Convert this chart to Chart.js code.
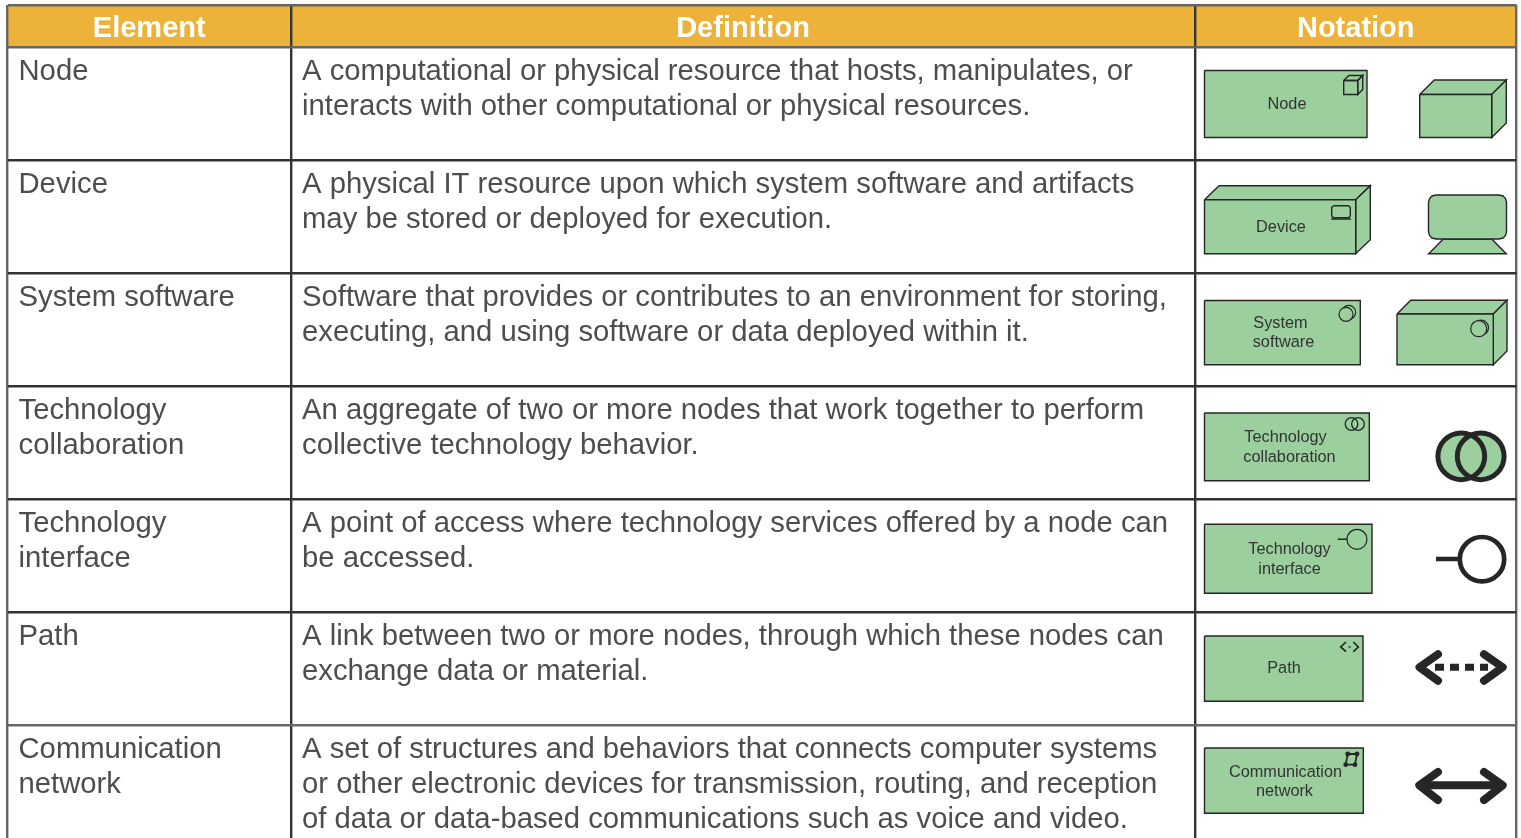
<!DOCTYPE html>
<html>
<head>
<meta charset="utf-8">
<title>Technology layer elements</title>
<script src="https://cdn.jsdelivr.net/npm/chart.js@4"></script>
<style>
    html, body { margin: 0; padding: 0; background: #fff; overflow: hidden; }
    canvas { display: block; }
</style>
</head>
<body>
<canvas id="tableChart" width="1521" height="838"></canvas>
<script>
// Table content
const headers = ['Element', 'Definition', 'Notation'];
const elementLines = [
    ['Node'],
    ['Device'],
    ['System software'],
    ['Technology', 'collaboration'],
    ['Technology', 'interface'],
    ['Path'],
    ['Communication', 'network']
];
const definitionLines = [
    ['A computational or physical resource that hosts, manipulates, or', 'interacts with other computational or physical resources.'],
    ['A physical IT resource upon which system software and artifacts', 'may be stored or deployed for execution.'],
    ['Software that provides or contributes to an environment for storing,', 'executing, and using software or data deployed within it.'],
    ['An aggregate of two or more nodes that work together to perform', 'collective technology behavior.'],
    ['A point of access where technology services offered by a node can', 'be accessed.'],
    ['A link between two or more nodes, through which these nodes can', 'exchange data or material.'],
    ['A set of structures and behaviors that connects computer systems', 'or other electronic devices for transmission, routing, and reception', 'of data or data-based communications such as voice and video.']
];
const notationLabels = [
    ['Node'],
    ['Device'],
    ['System', 'software'],
    ['Technology', 'collaboration'],
    ['Technology', 'interface'],
    ['Path'],
    ['Communication', 'network']
];

// Table grid, in axis units
const columnEdges = [7.5, 291, 1195, 1516.5];
const rowEdges = [5, 47.5, 160, 273, 386, 499, 612, 725];
const rowBaselines = [
    [80, 115],
    [193, 228],
    [306, 341],
    [419, 454],
    [532, 567],
    [645, 680],
    [758, 793, 828]
];
const notationLabelSpots = [
    [[1287, 105]],
    [[1281, 228]],
    [[1280.5, 324], [1283.5, 343]],
    [[1285.5, 437.5], [1289.5, 457.5]],
    [[1289.5, 549.5], [1289.5, 570]],
    [[1284, 669]],
    [[1285.5, 772.5], [1284.5, 791.5]]
];

const GOLD = '#ecb23a';
const GREEN = '#9bcf9e';
const INK = '#262626';
const TEXT = '#4d4d4d';

// Shape helpers, every shape ends up as one line dataset
const shapes = [];

function outline(points, opts) {
    shapes.push(Object.assign({
        data: points.map(p => ({ x: p[0], y: p[1] })),
        borderColor: INK,
        borderWidth: 1.4,
        pointRadius: 0,
        fill: false
    }, opts));
}

function solid(points) {
    outline(points, { fill: 'shape', backgroundColor: GREEN });
}

function box(x0, y0, x1, y1) {
    solid([[x0, y0], [x1, y0], [x1, y1], [x0, y1], [x0, y0]]);
}

function prism(x0, y0, x1, y1, x2, y2, filled) {
    const top = [[x0, y0], [x0 + (x2 - x1), y2], [x2, y2], [x1, y0], [x0, y0]];
    const side = [[x1, y0], [x2, y2], [x2, y1 - (y0 - y2)], [x1, y1], [x1, y0]];
    const front = [[x0, y0], [x1, y0], [x1, y1], [x0, y1], [x0, y0]];
    if (filled) {
        solid(top); solid(side); solid(front);
    } else {
        outline(top); outline(side); outline(front);
    }
}

function circle(cx, cy, r, width, color) {
    shapes.push({
        data: [{ x: cx, y: cy }],
        showLine: false,
        pointRadius: r,
        pointBorderWidth: width,
        pointBorderColor: INK,
        pointBackgroundColor: color
    });
}

function heavy(points, opts) {
    outline(points, Object.assign({ borderWidth: 8, borderCapStyle: 'round', borderJoinStyle: 'round' }, opts));
}

// Header band
shapes.push({
    data: [{ x: columnEdges[0], y: rowEdges[1] }, { x: columnEdges[3], y: rowEdges[1] }],
    borderWidth: 0,
    pointRadius: 0,
    backgroundColor: GOLD,
    fill: { value: rowEdges[0] }
});

// Node
box(1204.5, 70.5, 1367, 137.5);
prism(1343.7, 80.5, 1357.7, 94.5, 1362.7, 75.5, false);
prism(1419.7, 94.5, 1491.7, 137.5, 1506.3, 80, true);

// Device
prism(1204.5, 199.7, 1355.7, 253.7, 1370.3, 185.7, true);
outline([[1333.5, 205.7], [1348.5, 205.7], [1350.3, 207.5], [1350.3, 216], [1348.5, 217.7], [1333.5, 217.7], [1331.7, 216], [1331.7, 207.5], [1333.5, 205.7]]);
outline([[1331, 219], [1351, 219]]);
solid([[1443.3, 239], [1491.7, 239], [1506.3, 253.7], [1428.7, 253.7], [1443.3, 239]]);
solid([[1436, 195], [1499, 195], [1503, 196], [1505.5, 198.5], [1506.5, 202], [1506.5, 232], [1505.5, 235.5], [1503, 238], [1499, 239], [1436, 239], [1432, 238], [1429.5, 235.5], [1428.5, 232], [1428.5, 202], [1429.5, 198.5], [1432, 196], [1436, 195]]);

// System software
box(1204.5, 300.5, 1360.3, 364.7);
circle(1348.7, 312.3, 7, 1.2, GREEN);
circle(1346, 314.3, 7, 1.2, GREEN);
prism(1397, 314, 1493.3, 364.7, 1507, 300.3, true);
circle(1481, 327.7, 7.5, 1.2, GREEN);
circle(1478.7, 328.7, 8, 1.2, GREEN);

// Technology collaboration
box(1204.5, 413, 1369.3, 480.7);
circle(1351.5, 424, 6.3, 1.3, 'transparent');
circle(1358, 424, 6.3, 1.3, 'transparent');
circle(1461.3, 456.3, 23.4, 0, GREEN);
circle(1480.7, 456.3, 23.4, 0, GREEN);
circle(1461.3, 456.3, 23.4, 5, 'transparent');
circle(1480.7, 456.3, 23.4, 5, 'transparent');

// Technology interface
box(1204.5, 524.3, 1372, 593.3);
outline([[1337.7, 539.3], [1347, 539.3]]);
circle(1357, 539.3, 10, 1.2, GREEN);
heavy([[1436, 559], [1458, 559]], { borderCapStyle: 'butt', borderWidth: 4.7 });
circle(1482, 559.2, 22.2, 4.7, '#ffffff');

// Path
box(1204.5, 636, 1363, 701.3);
outline([[1346, 642], [1340.7, 647], [1346, 651.7]], { borderWidth: 1.7 });
outline([[1353.3, 642], [1358.3, 647], [1353.3, 651.7]], { borderWidth: 1.7 });
outline([[1348.6, 647], [1350.6, 647]], { borderWidth: 1.7 });
heavy([[1438, 654.3], [1419.5, 667.3], [1438, 680.7]]);
heavy([[1484, 654.3], [1502.7, 667.3], [1484, 680.7]]);
heavy([[1435, 667.3], [1488, 667.3]], { borderCapStyle: 'butt', borderDash: [9, 6], borderWidth: 7 });

// Communication network
box(1204.5, 748, 1363.3, 813.3);
outline([[1347.7, 754], [1357, 754], [1355, 764.7], [1345.7, 764.7], [1347.7, 754]], { borderWidth: 1.8 });
shapes.push({
    data: [{ x: 1347.7, y: 754 }, { x: 1357, y: 754 }, { x: 1355, y: 764.7 }, { x: 1345.7, y: 764.7 }],
    showLine: false,
    pointRadius: 2.4,
    pointBorderWidth: 0,
    pointBackgroundColor: INK
});
heavy([[1438, 772], [1419.3, 785.3], [1438, 800]]);
heavy([[1484, 772], [1502.7, 785.3], [1484, 800]]);
heavy([[1422, 785.3], [1499, 785.3]]);

// Datasets are painted last to first, so higher order goes down first
shapes.forEach((shape, i) => {
    shape.order = shapes.length - i;
});

function gridColor(edges, context) {
    const v = context.tick.value;
    return (v === edges[0] || v === edges[edges.length - 1] || v === rowEdges[1]) ? '#666666' : '#333333';
}

const tableText = {
    id: 'tableText',
    afterDatasetsDraw(chart) {
        const { ctx, scales: { x, y } } = chart;
        ctx.save();
        ctx.textBaseline = 'alphabetic';

        ctx.fillStyle = '#ffffff';
        ctx.textAlign = 'center';
        ctx.font = 'bold 29px "Liberation Sans", Arial, sans-serif';
        headers.forEach((label, i) => {
            const mid = (columnEdges[i] + columnEdges[i + 1]) / 2;
            ctx.fillText(label, x.getPixelForValue(mid), y.getPixelForValue(37));
        });

        ctx.fillStyle = TEXT;
        ctx.textAlign = 'left';
        ctx.font = '29.25px "Liberation Sans", Arial, sans-serif';
        elementLines.forEach((lines, row) => {
            lines.forEach((line, i) => {
                ctx.fillText(line, x.getPixelForValue(columnEdges[0] + 11), y.getPixelForValue(rowBaselines[row][i]));
            });
        });
        definitionLines.forEach((lines, row) => {
            lines.forEach((line, i) => {
                ctx.fillText(line, x.getPixelForValue(columnEdges[1] + 11), y.getPixelForValue(rowBaselines[row][i]));
            });
        });

        ctx.fillStyle = '#333333';
        ctx.textAlign = 'center';
        ctx.textBaseline = 'middle';
        ctx.font = '16.3px "Liberation Sans", Arial, sans-serif';
        notationLabels.forEach((lines, row) => {
            lines.forEach((line, i) => {
                const spot = notationLabelSpots[row][i];
                ctx.fillText(line, x.getPixelForValue(spot[0]), y.getPixelForValue(spot[1]));
            });
        });
        ctx.restore();
    }
};

new Chart(document.getElementById('tableChart').getContext('2d'), {
    type: 'line',
    data: { datasets: shapes },
    plugins: [tableText],
    options: {
        responsive: false,
        animation: false,
        events: [],
        layout: {
            autoPadding: false,
            padding: { left: columnEdges[0], top: rowEdges[0], right: 1521 - columnEdges[3], bottom: 0 }
        },
        plugins: {
            legend: { display: false },
            title: { display: false },
            tooltip: { enabled: false }
        },
        scales: {
            x: {
                type: 'linear',
                min: columnEdges[0],
                max: columnEdges[3],
                afterBuildTicks: axis => { axis.ticks = columnEdges.map(value => ({ value })); },
                ticks: { display: false },
                border: { display: false },
                grid: {
                    z: 1,
                    drawTicks: false,
                    lineWidth: 2.4,
                    color: ctx => gridColor(columnEdges, ctx)
                }
            },
            y: {
                type: 'linear',
                reverse: true,
                min: rowEdges[0],
                max: 838,
                afterBuildTicks: axis => { axis.ticks = rowEdges.map(value => ({ value })); },
                ticks: { display: false },
                border: { display: false },
                grid: {
                    z: 1,
                    drawTicks: false,
                    lineWidth: 2.4,
                    color: ctx => gridColor(rowEdges, ctx)
                }
            }
        }
    }
});
</script>
</body>
</html>
